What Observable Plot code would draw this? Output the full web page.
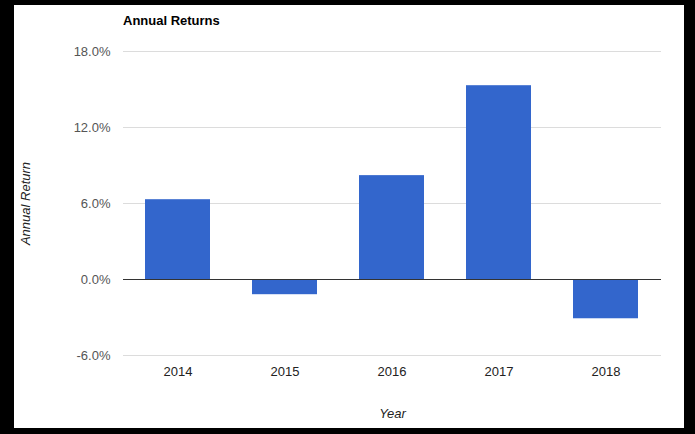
<!DOCTYPE html>
<html>
<head>
<meta charset="utf-8">
<script src="https://cdn.jsdelivr.net/npm/d3@7"></script>
<script src="https://cdn.jsdelivr.net/npm/@observablehq/plot@0.6"></script>
<style>
  html, body { margin: 0; padding: 0; background: #000; width: 695px; height: 434px; overflow: hidden; }
  #card { position: absolute; left: 14px; top: 5px; width: 670px; height: 423px; background: #fff; }
  #title { position: absolute; left: 109px; top: 8px; font: bold 13px "Liberation Sans", Arial, sans-serif; color: #000; }
  #chart { position: absolute; left: 0; top: 0; }
</style>
</head>
<body>
<div id="card">
  <div id="chart"></div>
  <div id="title">Annual Returns</div>
</div>
<script>
const years = ["2014", "2015", "2016", "2017", "2018"];
const returns = [6.3, -1.2, 8.2, 15.3, -3.1];
const yTicks = [-6, 0, 6, 12, 18];
const gridTicks = [-6, 6, 12, 18];
const xLabel = "Year";
const yLabel = "Annual Return";

const data = years.map((y, i) => ({year: y, value: returns[i]}));
const font = '"Liberation Sans", Arial, sans-serif';

const chart = Plot.plot({
  width: 670,
  height: 423,
  marginLeft: 109,
  marginRight: 23,
  marginTop: 46,
  marginBottom: 73,
  style: {fontFamily: font, fontSize: "13px", background: "#fff"},
  x: {domain: years, paddingInner: 0.39, paddingOuter: 0.195, label: null},
  y: {domain: [-6, 18], label: null},
  marks: [
    Plot.ruleY(gridTicks, {stroke: "#dcdcdc", strokeWidth: 1}),
    Plot.barY(data, {x: "year", y: "value", fill: "#3366cc"}),
    Plot.ruleY([0], {stroke: "#333", strokeWidth: 1}),
    Plot.axisY({ticks: yTicks, tickSize: 0, tickPadding: 13, tickFormat: d => d.toFixed(1) + "%", label: null, color: "#555", fontSize: 13}),
    Plot.axisX({tickSize: 0, tickPadding: 11, label: null, color: "#222", fontSize: 13}),
    Plot.text([xLabel], {text: d => d, frameAnchor: "bottom", dy: 58, lineAnchor: "middle", fontStyle: "italic", fill: "#222", fontSize: 13}),
    Plot.text([yLabel], {text: d => d, frameAnchor: "left", dx: -98, rotate: -90, textAnchor: "middle", lineAnchor: "middle", fontStyle: "italic", fill: "#222", fontSize: 13})
  ]
});
document.getElementById("chart").appendChild(chart);
</script>
</body>
</html>
